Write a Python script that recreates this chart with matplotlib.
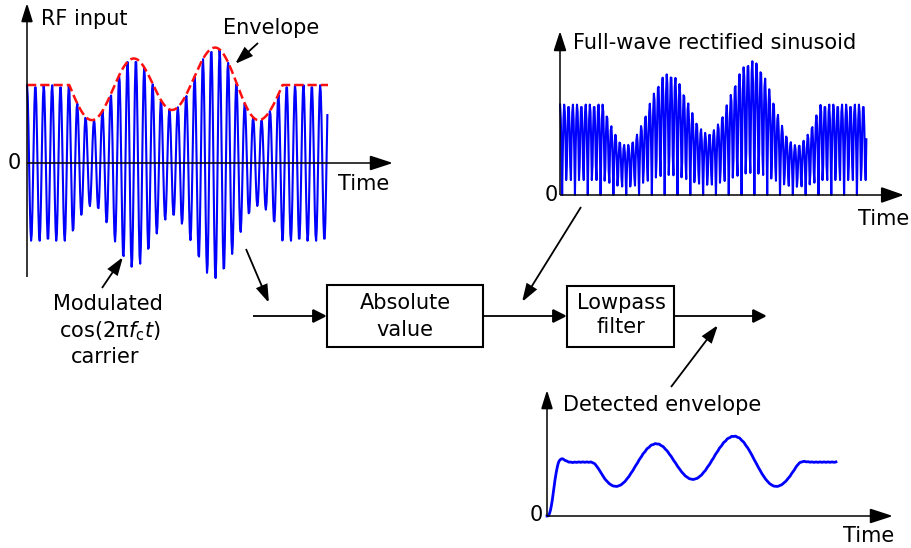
import numpy as np
import matplotlib
matplotlib.use("Agg")
import matplotlib.pyplot as plt
from matplotlib.patches import FancyArrowPatch, Rectangle

W, H = 912, 548

# carrier: cycles shown and sampling step (in carrier cycles)
T_END = 35.93
STEP = 3 / 38
T_OFF = 0.25 - 3 * STEP
DET_STEP = 1 / 40

# envelope extremes (time in carrier cycles, level rel. to flat)
env_t = [5.05, 7.75, 12.75, 17.3, 22.45, 27.65, 30.5]
env_v = [1.0, 0.55, 1.34, 0.68, 1.48, 0.55, 1.0]

# lowpass filter: two cascaded 2nd-order sections, cutoff per carrier cycle
FC = 0.55

BLUE = "#0000ff"
RED = "#ff1010"
FS = 15


def envelope(t):
    e = np.ones_like(t)
    n = len(env_t) - 1
    for i in range(n):
        a, b = env_t[i], env_t[i + 1]
        m = (t >= a) & (t < b)
        u = (t[m] - a) / (b - a)
        if i == 0:
            w = np.sin(np.pi * u / 2)
        elif i == n - 1:
            w = 1 - np.cos(np.pi * u / 2)
        else:
            w = (1 - np.cos(np.pi * u)) / 2
        e[m] = env_v[i] + (env_v[i + 1] - env_v[i]) * w
    return e


def butter2(x, fc, fs):
    k = np.tan(np.pi * fc / fs)
    norm = 1 / (1 + np.sqrt(2) * k + k * k)
    b0 = k * k * norm
    b1, b2 = 2 * b0, b0
    a1 = 2 * (k * k - 1) * norm
    a2 = (1 - np.sqrt(2) * k + k * k) * norm
    y = np.zeros_like(x)
    x1 = x2 = y1 = y2 = 0.0
    for i, xi in enumerate(x):
        yi = b0 * xi + b1 * x1 + b2 * x2 - a1 * y1 - a2 * y2
        y[i] = yi
        x2, x1 = x1, xi
        y2, y1 = y1, yi
    return y


t = T_OFF + np.arange(int((T_END - T_OFF) / STEP) + 1) * STEP
rf = envelope(t) * np.cos(2 * np.pi * t)
rect = np.abs(rf)

t_det = np.arange(0, T_END, DET_STEP)
rect_fine = np.abs(envelope(t_det) * np.cos(2 * np.pi * t_det))
detected = butter2(butter2(rect_fine, FC, 1 / DET_STEP), FC, 1 / DET_STEP) / (2 / np.pi)

t_fine = np.linspace(0, T_END, 800)
env_fine = envelope(t_fine)

fig = plt.figure(figsize=(W / 100, H / 100), dpi=100)
fig.patch.set_facecolor("white")
ax = fig.add_axes([0, 0, 1, 1])
ax.set_xlim(0, W)
ax.set_ylim(H, 0)
ax.axis("off")
ax.set_zorder(3)
ax.patch.set_visible(False)


def panel(ox, oy, x_end_px, unit_px, ylo, yhi):
    # inset whose data coords map time 0..T_END to ox..x_end_px, 1 unit to unit_px
    top = oy - yhi * unit_px
    bot = oy - ylo * unit_px
    a = fig.add_axes([ox / W, 1 - bot / H, (x_end_px - ox) / W, (bot - top) / H])
    a.set_xlim(0, T_END)
    a.set_ylim(ylo, yhi)
    a.axis("off")
    a.set_zorder(1)
    return a


def arrow(p0, p1, hl=12, hw=12, lw=1.3):
    ax.add_patch(FancyArrowPatch(
        p0, p1, arrowstyle=f"-|>,head_length={hl * 0.72},head_width={hw * 0.36}",
        mutation_scale=1, color="black", lw=lw, shrinkA=0, shrinkB=0,
        joinstyle="miter", capstyle="butt"))


# RF input panel
a1 = panel(27, 163, 328, 78, -1.7, 1.7)
a1.plot(t, rf, color=BLUE, lw=1.5, clip_on=False)
a1.plot(t_fine, env_fine, color=RED, lw=1.8, ls="--", clip_on=False)
arrow((27, 277), (27, 3), hl=16, hw=10, lw=1.1)
arrow((27, 163), (393, 163), hl=20, hw=13, lw=1.1)
ax.text(41, 19, "RF input", fontsize=FS, ha="left", va="center")
ax.text(14, 163, "0", fontsize=FS, ha="center", va="center")
ax.text(364, 184, "Time", fontsize=FS, ha="center", va="center")
ax.text(271, 28, "Envelope", fontsize=FS, ha="center", va="center")
arrow((258, 43), (235, 64), hl=15, hw=10)

ax.text(108, 304, "Modulated", fontsize=FS, ha="center", va="center")
ax.text(110, 331, r"cos(2$\mathrm{\pi}\mathit{f}_{\mathrm{c}}\mathit{t}$)",
        fontsize=FS, ha="center", va="center")
ax.text(105, 357, "carrier", fontsize=FS, ha="center", va="center")
arrow((102, 288), (123, 257), hl=15, hw=10)
arrow((246, 249), (269, 303), hl=15, hw=10)

# block diagram
ax.add_patch(Rectangle((327, 285), 156, 62, fill=False, lw=1.5, ec="black"))
ax.add_patch(Rectangle((567, 286), 107, 61, fill=False, lw=1.5, ec="black"))
ax.text(405, 303, "Absolute", fontsize=FS, ha="center", va="center")
ax.text(405, 330, "value", fontsize=FS, ha="center", va="center")
ax.text(621, 303, "Lowpass", fontsize=FS, ha="center", va="center")
ax.text(621, 327, "filter", fontsize=FS, ha="center", va="center")
arrow((253, 316), (327, 316))
arrow((483, 316), (567, 316))
arrow((674, 316), (767, 316))

# rectified panel
a2 = panel(560, 195, 867, 90.7, -0.1, 1.7)
a2.plot(t, rect, color=BLUE, lw=1.5, clip_on=False)
arrow((560, 195), (560, 31), hl=17, hw=11, lw=1.1)
arrow((560, 195), (904, 195), hl=20, hw=14, lw=1.1)
ax.text(573, 43, "Full-wave rectified sinusoid", fontsize=FS, ha="left", va="center")
ax.text(551, 195, "0", fontsize=FS, ha="center", va="center")
ax.text(884, 219, "Time", fontsize=FS, ha="center", va="center")
arrow((581, 207), (522, 302), hl=15, hw=10)

# detected envelope panel
a3 = panel(547, 516, 836, 54, -0.1, 2.0)
a3.plot(t_det, detected, color=BLUE, lw=2.0, clip_on=False)
arrow((547, 516), (547, 390), hl=16, hw=10, lw=1.1)
arrow((547, 516), (893, 516), hl=20, hw=13, lw=1.1)
ax.text(563, 405, "Detected envelope", fontsize=FS, ha="left", va="center")
ax.text(536, 515, "0", fontsize=FS, ha="center", va="center")
ax.text(869, 536, "Time", fontsize=FS, ha="center", va="center")
arrow((671, 387), (718, 325), hl=15, hw=10)

fig.savefig("out.png", dpi=100, facecolor="white")
